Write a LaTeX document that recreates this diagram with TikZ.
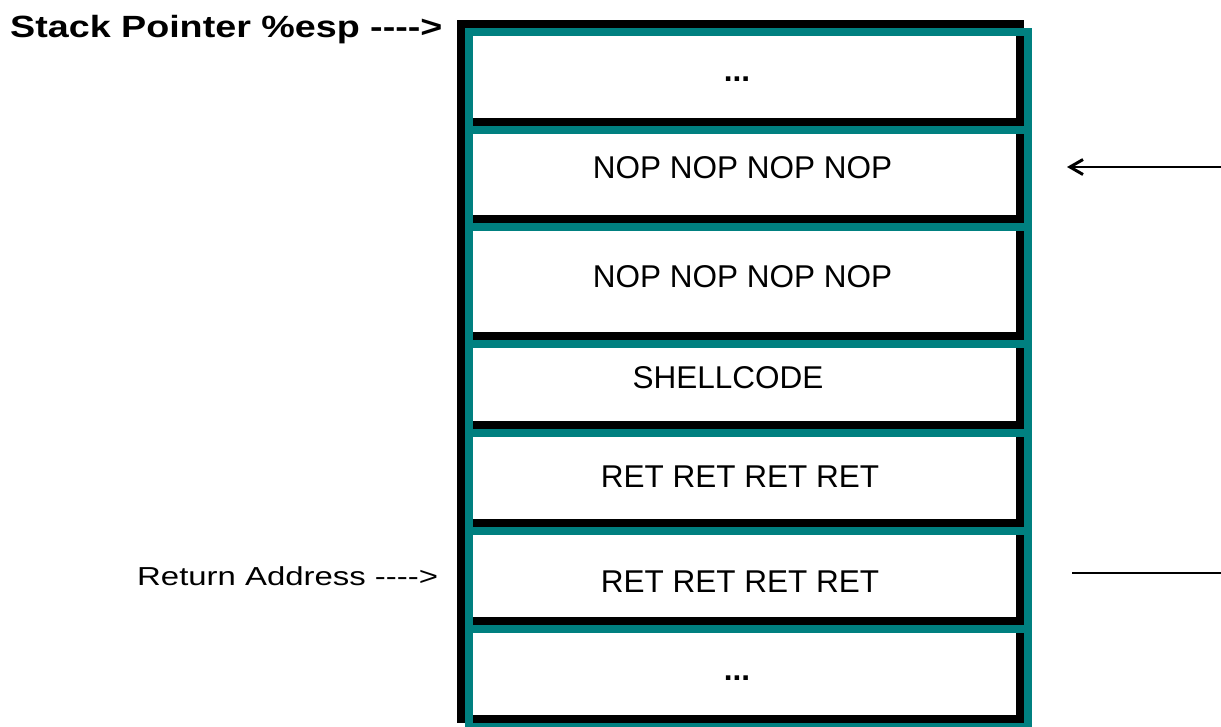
\documentclass[tikz,border=0pt]{standalone}
\usepackage{fontspec}
\setmainfont{Liberation Sans}[Ligatures=TeXOff]
\usetikzlibrary{arrows.meta}
\definecolor{frameteal}{RGB}{0,128,128}

\tikzset{
  cellbox/.style={rectangle, draw=black, line width=8pt, inner sep=0pt,
                  outer sep=0pt, minimum width=558.5pt},
  tealframe/.style={draw=frameteal, line width=8pt},
  celltext/.style={inner sep=0pt, anchor=base, font=\fontsize{31.5}{36}\selectfont},
  sidelabel/.style={inner sep=0pt, anchor=base west},
  pointer/.style={line width=2.5pt, draw=black}
}

\newcommand{\tealbox}[1]{%
  \draw[tealframe] ([shift={(8pt,-8pt)}]#1.north west) rectangle
                   ([shift={(8pt,-8pt)}]#1.south east);}

\begin{document}
\begin{tikzpicture}[x=1pt, y=-1pt]
  \useasboundingbox (0,0) rectangle (1221,726);
  \fill[white] (0,0) rectangle (1221,726);
  \clip (0,0) rectangle (1221,726);

  % stack cells: black outlines
  \node[cellbox, minimum height=98pt]   (c1) at (740.25,73)     {};
  \node[cellbox, minimum height=97pt]   (c2) at (740.25,170.5)  {};
  \node[cellbox, minimum height=116.5pt](c3) at (740.25,277.25) {};
  \node[cellbox, minimum height=89pt]   (c4) at (740.25,380)    {};
  \node[cellbox, minimum height=98.5pt] (c5) at (740.25,473.75) {};
  \node[cellbox, minimum height=98pt]   (c6) at (740.25,572)    {};
  \node[cellbox, minimum height=98pt]   (c7) at (740.25,670)    {};

  % offset teal frames
  \tealbox{c1}\tealbox{c2}\tealbox{c3}\tealbox{c4}\tealbox{c5}\tealbox{c6}\tealbox{c7}

  % cell contents (placed on their baselines)
  \node[celltext, font=\fontsize{31.5}{36}\selectfont\bfseries] (t1) at (737,81) {...};
  \node[celltext] (t2) at (742.5,178) {NOP NOP NOP NOP};
  \node[celltext] (t3) at (742.5,287) {NOP NOP NOP NOP};
  \node[celltext] (t4) at (728,388)   {SHELLCODE};
  \node[celltext] (t5) at (740,487)   {RET RET RET RET};
  \node[celltext] (t6) at (740,592)   {RET RET RET RET};
  \node[celltext, font=\fontsize{31.5}{36}\selectfont\bfseries] (t7) at (737,680) {...};

  % labels on the left
  \node[sidelabel, font=\fontsize{30.7}{36}\selectfont\bfseries] (sp) at (10,37)
    {\scalebox{1.227}[1]{Stack Pointer \%esp ---->}};
  \node[sidelabel, font=\fontsize{26}{30}\selectfont] (ra) at (137,585)
    {\scalebox{1.266}[1]{Return Address ---->}};

  % pointers on the right
  \coordinate (nopTail) at (1221,167);
  \coordinate (nopTip)  at (1067,167);
  \draw[pointer, -{Straight Barb[length=13pt,width=15pt,line width=3pt]}] (nopTail) -- (nopTip);
  \coordinate (retTail) at (1221,573);
  \coordinate (retEnd)  at (1072,573);
  \draw[pointer] (retTail) -- (retEnd);
\end{tikzpicture}
\end{document}
